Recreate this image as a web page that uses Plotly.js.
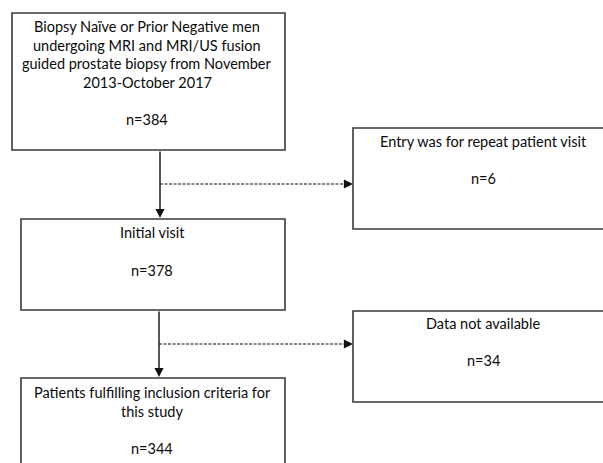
<!DOCTYPE html>
<html>
<head>
<meta charset="utf-8">
<script src="https://cdn.plot.ly/plotly-3.0.1.min.js"></script>
<style>html,body{margin:0;padding:0;background:#fff;}#chart{width:603px;height:463px;}</style>
</head>
<body>
<div id="chart"></div>
<script>
// ---- Data (flowchart content) ----
const stepLines = [
  ["Biopsy Naïve or Prior Negative men", "undergoing MRI and MRI/US fusion", "guided prostate biopsy from November", "2013-October 2017"],
  ["Entry was for repeat patient visit"],
  ["Initial visit"],
  ["Data not available"],
  ["Patients fulfilling inclusion criteria for", "this study"]
];
const stepCounts = [384, 6, 378, 34, 344];

// ---- Layout geometry (pixels, y downward) ----
const boxes = [
  {x0: 12, x1: 285, y0: 13, y1: 150, cx: 147, lineY: [26, 45, 63, 82], nY: 119},
  {x0: 353, x1: 615, y0: 128, y1: 229, cx: 483, lineY: [141], nY: 178},
  {x0: 21, x1: 285, y0: 219, y1: 310, cx: 152, lineY: [232], nY: 270},
  {x0: 353, x1: 615, y0: 311, y1: 402, cx: 483, lineY: [323], nY: 360},
  {x0: 21, x1: 285, y0: 378, y1: 480, cx: 152, lineY: [392, 411], nY: 448}
];

const edge = '#3a3a3a';
const shapes = [];
const annotations = [];
const font = {family: 'Lato, "Open Sans", sans-serif', size: 14.5, color: '#0a0a0a'};

boxes.forEach((b, i) => {
  shapes.push({type: 'rect', xref: 'x', yref: 'y', x0: b.x0, x1: b.x1, y0: b.y0, y1: b.y1,
    line: {color: edge, width: 1.6}, fillcolor: 'rgba(0,0,0,0)'});
  stepLines[i].forEach((t, j) => {
    annotations.push({x: b.cx, y: b.lineY[j], xref: 'x', yref: 'y', text: t, showarrow: false,
      font: font, xanchor: 'center', yanchor: 'middle'});
  });
  annotations.push({x: b.cx, y: b.nY, xref: 'x', yref: 'y', text: 'n=' + stepCounts[i], showarrow: false,
    font: font, xanchor: 'center', yanchor: 'middle'});
});

// solid vertical connectors
const vx1 = 160, vx2 = 159;
annotations.push({x: vx1, y: 218, ax: vx1, ay: 150, xref: 'x', yref: 'y', axref: 'x', ayref: 'y',
  text: '', showarrow: true, arrowhead: 2, arrowsize: 1.3, arrowwidth: 1.4, arrowcolor: '#111', standoff: 0});
annotations.push({x: vx2, y: 377, ax: vx2, ay: 310, xref: 'x', yref: 'y', axref: 'x', ayref: 'y',
  text: '', showarrow: true, arrowhead: 2, arrowsize: 1.3, arrowwidth: 1.4, arrowcolor: '#111', standoff: 0});

// dashed exclusion connectors
[[vx1, 184], [vx2, 344]].forEach(([x0, y]) => {
  shapes.push({type: 'line', xref: 'x', yref: 'y', x0: x0, x1: 348, y0: y, y1: y,
    line: {color: '#111', width: 1.1, dash: '3px,1.5px'}});
  annotations.push({x: 353, y: y, ax: 343, ay: y, xref: 'x', yref: 'y', axref: 'x', ayref: 'y',
    text: '', showarrow: true, arrowhead: 2, arrowsize: 1.3, arrowwidth: 1.4, arrowcolor: '#111', standoff: 0});
});

const layout = {
  width: 603, height: 463,
  margin: {l: 0, r: 0, t: 0, b: 0},
  paper_bgcolor: '#fff', plot_bgcolor: '#fff',
  xaxis: {range: [0, 603], visible: false, fixedrange: true},
  yaxis: {range: [463, 0], visible: false, fixedrange: true},
  shapes: shapes,
  annotations: annotations,
  showlegend: false
};

Plotly.newPlot('chart', [{x: [], y: [], type: 'scatter', mode: 'markers', hoverinfo: 'skip'}], layout,
  {staticPlot: true, displayModeBar: false});
</script>
</body>
</html>
